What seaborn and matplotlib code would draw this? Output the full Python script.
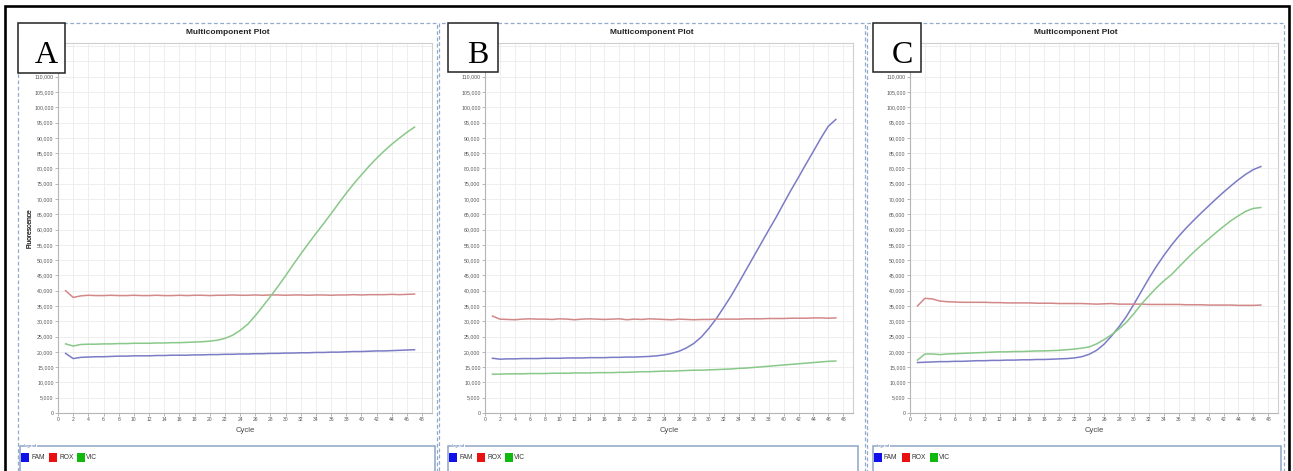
import matplotlib
matplotlib.use("Agg")
import matplotlib.pyplot as plt
import seaborn as sns
import pandas as pd
from matplotlib.patches import Rectangle
from matplotlib import font_manager as fm

# ---------------- data ----------------
cycles = list(range(1, 48))
dyes = ["FAM", "ROX", "VIC"]
panel_labels = ["A", "B", "C"]
title_text = "Multicomponent Plot"
x_ticks = list(range(0, 49, 2))
y_ticks = list(range(0, 110001, 5000))

fam_a = [19500, 17800, 18200, 18300, 18400, 18400, 18500, 18600, 18600, 18700,
         18700, 18700, 18800, 18800, 18900, 18900, 18900, 19000, 19000, 19100,
         19100, 19200, 19200, 19300, 19300, 19400, 19400, 19500, 19500, 19600,
         19600, 19700, 19700, 19800, 19800, 19900, 19900, 20000, 20100, 20100,
         20200, 20300, 20300, 20400, 20500, 20600, 20700]
rox_a = [40000, 37800, 38300, 38500, 38400, 38400, 38500, 38400, 38400, 38500,
         38400, 38400, 38500, 38400, 38400, 38500, 38400, 38500, 38500, 38400,
         38500, 38500, 38600, 38500, 38500, 38600, 38500, 38600, 38600, 38500,
         38600, 38600, 38500, 38600, 38600, 38500, 38600, 38600, 38700, 38600,
         38700, 38700, 38700, 38800, 38700, 38800, 38900]
vic_a = [22600, 21900, 22400, 22500, 22500, 22600, 22600, 22700, 22700, 22800,
         22800, 22800, 22900, 22900, 23000, 23000, 23100, 23200, 23300, 23500,
         23800, 24400, 25400, 27000, 29000, 31800, 34900, 38100, 41400, 44900,
         48500, 52000, 55400, 58700, 61900, 65200, 68600, 71900, 75000, 77900,
         80700, 83300, 85700, 87900, 89900, 91800, 93500]

fam_b = [17900, 17600, 17700, 17700, 17800, 17800, 17800, 17900, 17900, 17900,
         18000, 18000, 18000, 18100, 18100, 18100, 18200, 18200, 18300, 18300,
         18400, 18500, 18700, 19000, 19500, 20200, 21300, 22800, 24900, 27700,
         30900, 34600, 38400, 42600, 46900, 51200, 55500, 59800, 64000, 68500,
         72900, 77100, 81400, 85600, 89900, 93800, 96000]
rox_b = [31700, 30700, 30600, 30500, 30700, 30800, 30700, 30700, 30600, 30800,
         30700, 30500, 30700, 30800, 30700, 30600, 30700, 30800, 30500, 30700,
         30600, 30800, 30700, 30600, 30500, 30700, 30600, 30500, 30600, 30600,
         30700, 30700, 30700, 30700, 30800, 30800, 30800, 30900, 30900, 30900,
         31000, 31000, 31000, 31100, 31100, 31000, 31100]
vic_b = [12700, 12700, 12800, 12800, 12800, 12900, 12900, 12900, 13000, 13000,
         13000, 13100, 13100, 13100, 13200, 13200, 13200, 13300, 13300, 13400,
         13500, 13500, 13600, 13700, 13700, 13800, 13900, 14000, 14000, 14100,
         14200, 14300, 14400, 14600, 14700, 14900, 15100, 15300, 15500, 15700,
         15900, 16100, 16300, 16500, 16700, 16900, 17000]

fam_c = [16500, 16600, 16700, 16800, 16800, 16900, 16900, 17000, 17100, 17100,
         17200, 17200, 17300, 17300, 17400, 17400, 17500, 17500, 17600, 17700,
         17800, 18000, 18400, 19200, 20500, 22500, 25200, 28200, 31600, 35600,
         39800, 44000, 47900, 51500, 54800, 57800, 60500, 63000, 65400, 67700,
         70000, 72200, 74300, 76300, 78100, 79600, 80600]
rox_c = [35000, 37500, 37300, 36600, 36400, 36300, 36200, 36200, 36200, 36200,
         36100, 36100, 36000, 36000, 36000, 36000, 35900, 35900, 35900, 35800,
         35800, 35800, 35800, 35700, 35600, 35700, 35800, 35600, 35600, 35600,
         35600, 35500, 35500, 35500, 35500, 35500, 35400, 35400, 35400, 35300,
         35300, 35300, 35300, 35200, 35200, 35200, 35300]
vic_c = [17300, 19300, 19300, 19100, 19300, 19400, 19500, 19600, 19700, 19800,
         19900, 20000, 20000, 20100, 20100, 20200, 20300, 20300, 20400, 20500,
         20700, 20900, 21200, 21600, 22600, 24000, 25600, 27500, 29700, 32500,
         35600, 38300, 40900, 43200, 45200, 47700, 50200, 52600, 54800, 56900,
         59000, 61000, 62900, 64500, 66000, 66900, 67200]

panel_series = [(fam_a, rox_a, vic_a), (fam_b, rox_b, vic_b), (fam_c, rox_c, vic_c)]

# ---------------- style ----------------
line_colors = {"FAM": "#7b7bc6", "ROX": "#d38888", "VIC": "#88c888"}
legend_colors = {"FAM": "#1010e8", "ROX": "#e81010", "VIC": "#10b810"}


def has_font(name):
    try:
        fm.findfont(fm.FontProperties(family=name), fallback_to_default=False)
        return True
    except Exception:
        return False


NARROW = has_font("Liberation Sans Narrow")
SANS = "Liberation Sans" if has_font("Liberation Sans") else "DejaVu Sans"
SERIF = "Liberation Serif" if has_font("Liberation Serif") else "DejaVu Serif"
TITLE_FONT = "Liberation Sans Narrow" if NARROW else SANS
TITLE_SIZE = 7.5 if NARROW else 6.0

W, H = 1293, 471
fig = plt.figure(figsize=(W / 100, H / 100), dpi=100)
fig.patch.set_facecolor("white")


def fx(x):
    return x / W


def fy(y):
    return 1 - y / H


def rect_px(x0, y0, x1, y1, **kw):
    r = Rectangle((fx(x0), fy(y1)), (x1 - x0) / W, (y1 - y0) / H,
                  transform=fig.transFigure, **kw)
    fig.add_artist(r)
    return r


# outer black border
rect_px(5, 6, 1289, 490, fill=False, edgecolor="black", linewidth=1.9, zorder=10)

layout = [
    dict(frame=(18, 23, 437, 490), ax=(58, 43, 432, 413), box=(18, 23, 65, 73), leg=(20, 446, 435, 490)),
    dict(frame=(439, 23, 865, 490), ax=(485, 43, 853, 413), box=(448, 23, 498, 72), leg=(448, 446, 858, 490)),
    dict(frame=(867, 23, 1284, 490), ax=(910, 43, 1278, 413), box=(873, 23, 921, 72), leg=(873, 446, 1281, 490)),
]

for i, L in enumerate(layout):
    fam, rox, vic = panel_series[i]
    # dashed panel frame
    x0, y0, x1, y1 = L["frame"]
    rect_px(x0, y0, x1, y1, fill=False, edgecolor="#93aacb", linewidth=0.9,
            linestyle=(0, (3, 2)), zorder=1)

    # axes
    ax0, ay0, ax1, ay1 = L["ax"]
    ax = fig.add_axes([fx(ax0), fy(ay1), (ax1 - ax0) / W, (ay1 - ay0) / H])
    df = pd.DataFrame({
        "Cycle": cycles * 3,
        "Fluorescence": fam + rox + vic,
        "Dye": ["FAM"] * len(fam) + ["ROX"] * len(rox) + ["VIC"] * len(vic),
    })
    sns.lineplot(data=df, x="Cycle", y="Fluorescence", hue="Dye",
                 hue_order=dyes, palette=line_colors, ax=ax, legend=False,
                 linewidth=1.1, estimator=None, sort=False)
    ax.set_xlim(0, 49.3)
    ax.set_ylim(0, 121000)
    ax.set_xticks(x_ticks)
    ax.set_xticklabels([str(t) for t in x_ticks], fontsize=3.6, family=SANS, color="#555555")
    ax.set_yticks(y_ticks)
    ax.set_yticklabels([f"{t:,}" for t in y_ticks], fontsize=3.8, family=SANS, color="#555555")
    ax.set_yticks([115000, 120000], minor=True)
    ax.tick_params(which="major", length=2, width=0.5, color="#9a9a9a", pad=1.2)
    ax.tick_params(which="minor", length=0)
    ax.grid(True, which="both", color="#ebebeb", linewidth=0.6)
    ax.set_axisbelow(True)
    for s in ax.spines.values():
        s.set_color("#cfcfcf")
        s.set_linewidth(0.8)
    ax.spines["left"].set_color("#b5b5b5")
    ax.spines["bottom"].set_color("#b5b5b5")
    ax.set_xlabel("Cycle", fontsize=5.5, family=SANS, color="#444444")
    ax.set_ylabel("Fluorescence", fontsize=4.8, family=SANS, color="#444444")
    ax.xaxis.set_label_coords(0.5, -(431 - ay1) / (ay1 - ay0) * 1.0 - 0.0)
    ax.yaxis.set_label_coords(-(ax0 - 29.5) / (ax1 - ax0), 0.5)
    ax.xaxis.label.set_va("center")
    ax.yaxis.label.set_va("center")

    # title
    fig.text(fx((x0 + x1) / 2), fy(33), title_text, ha="center", va="center",
             fontsize=TITLE_SIZE, fontweight="bold", family=TITLE_FONT, color="#222222")

    # letter box
    bx0, by0, bx1, by1 = L["box"]
    rect_px(bx0, by0, bx1, by1, facecolor="white", edgecolor="#222222", linewidth=1.1, zorder=5)
    fig.text(fx((bx0 + bx1) / 2 + 5), fy(63), panel_labels[i], ha="center", va="baseline",
             fontsize=23, family=SERIF, color="black", zorder=6)

    # legend box
    lx0, ly0, lx1, ly1 = L["leg"]
    rect_px(lx0, ly0, lx1, ly1, fill=False, edgecolor="#8ea5c6", linewidth=1.1, zorder=3)
    fig.text(fx(lx0 + 4), fy(ly0), "Legend", ha="left", va="center", fontsize=2.8,
             family=SANS, color="#3a5fa0", zorder=4,
             bbox=dict(facecolor="white", edgecolor="none", pad=0.3))
    sq_off = [1, 29, 57]
    tx_off = [11, 39, 66]
    for k, d in enumerate(dyes):
        rect_px(lx0 + sq_off[k], 453, lx0 + sq_off[k] + 8, 462,
                facecolor=legend_colors[d], edgecolor="none", zorder=4)
        fig.text(fx(lx0 + tx_off[k]), fy(457.5), d, ha="left", va="center",
                 fontsize=4.8, family=SANS, color="#333333", zorder=4)

fig.savefig("out.png", dpi=100, facecolor="white")
